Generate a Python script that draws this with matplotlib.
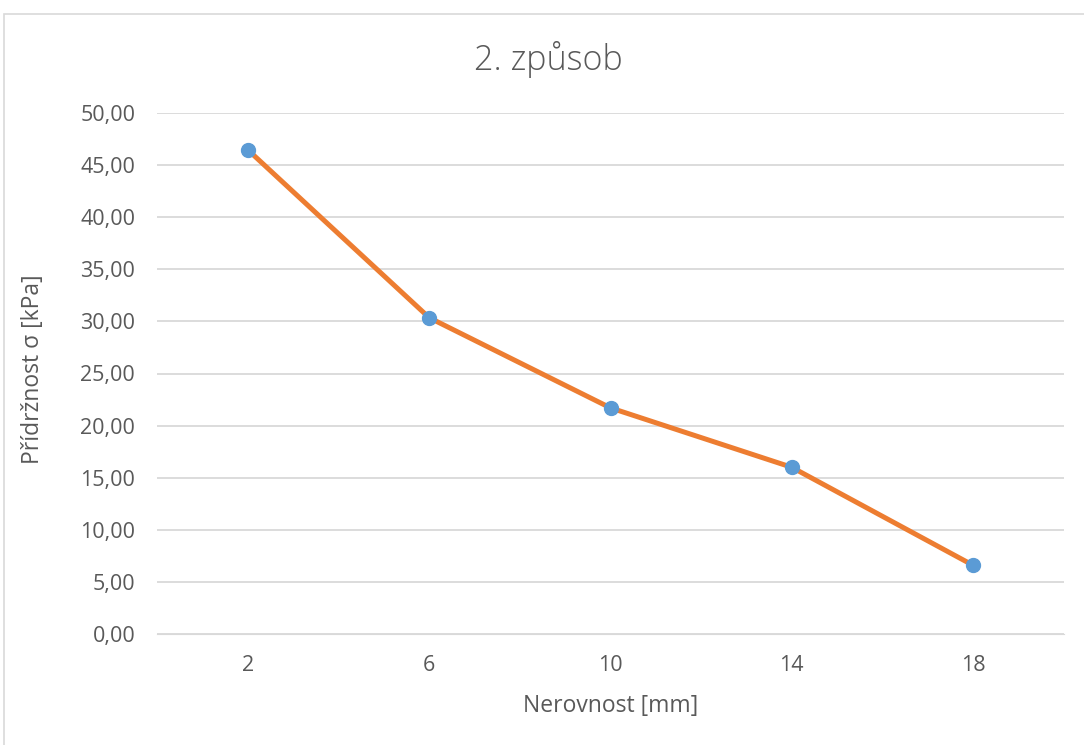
import matplotlib.pyplot as plt
from matplotlib.patches import Rectangle
from matplotlib.ticker import FuncFormatter, MultipleLocator

# data
nerovnost = ["2", "6", "10", "14", "18"]
pridrznost = [46.45, 30.35, 21.7, 16.0, 6.6]

plt.rcParams['font.family'] = ['Open Sans', 'DejaVu Sans']
text_col = "#595959"
grid_col = "#D9D9D9"

fig = plt.figure(figsize=(10.84, 7.45), dpi=100)
W, H = 1084, 745

# chart frame
fig.patches.append(Rectangle((4 / W, -0.01), 1.1, (H - 14) / H + 0.01,
                             transform=fig.transFigure, fill=False,
                             edgecolor=grid_col, linewidth=1.2))

ax = fig.add_axes([157.4 / W, (H - 634) / H, 906.2 / W, 521 / H])
x = list(range(len(nerovnost)))
ax.plot(x, pridrznost, color="#ED7D31", linewidth=3.6, solid_capstyle="round",
        marker="o", markersize=10, markerfacecolor="#5B9BD5",
        markeredgecolor="#5B9BD5", zorder=3)

ax.set_xlim(-0.5, len(nerovnost) - 0.5)
ax.set_ylim(0, 50)
ax.yaxis.set_major_locator(MultipleLocator(5))
ax.yaxis.set_major_formatter(FuncFormatter(lambda v, p: f"{v:.2f}".replace(".", ",")))
ax.set_xticks(x)
ax.set_xticklabels(nerovnost)
ax.grid(axis="y", color=grid_col, linewidth=1.3)
ax.set_axisbelow(True)
for s in ax.spines.values():
    s.set_visible(False)
ax.spines["bottom"].set_visible(True)
ax.spines["bottom"].set_color(grid_col)
ax.tick_params(length=0, labelsize=15.5, colors=text_col)
ax.tick_params(axis="y", pad=16)
ax.tick_params(axis="x", pad=15)

fig.text(548 / W, 1 - 60 / H, "2. způsob", ha="center", va="center",
         fontsize=24.5, fontweight="light", color=text_col)
fig.text(611 / W, 1 - 706 / H, "Nerovnost [mm]", ha="center", va="center",
         fontsize=16.5, color=text_col)
fig.text(33 / W, 1 - 369 / H, "Přídržnost σ [kPa]", ha="center", va="center",
         rotation=90, fontsize=16.5, color=text_col)

fig.savefig("out.png", dpi=100, facecolor="white")
